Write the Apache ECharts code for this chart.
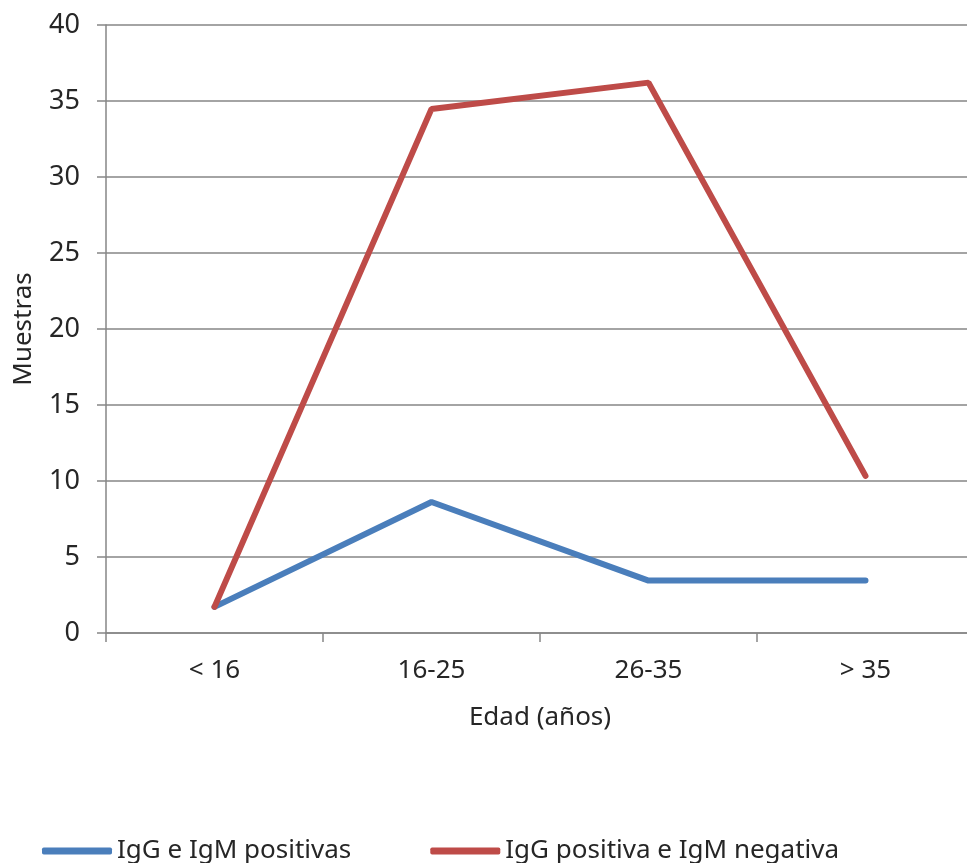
<!DOCTYPE html>
<html>
<head>
<meta charset="utf-8">
<script src="https://cdn.jsdelivr.net/npm/echarts@6/dist/echarts.min.js"></script>
<style>
html,body{margin:0;padding:0;background:#fff;}
#chart{width:967px;height:863px;}
</style>
</head>
<body>
<div id="chart"></div>
<script>
const categories = ['< 16', '16-25', '26-35', '> 35'];
const seriesNames = ['IgG e IgM positivas', 'IgG positiva e IgM negativa'];
const igmPositive = [1.72, 8.62, 3.45, 3.45];
const igmNegative = [1.72, 34.48, 36.21, 10.34];
const yTicks = [0, 5, 10, 15, 20, 25, 30, 35, 40];

const chart = echarts.init(document.getElementById('chart'));
const font = 'Noto Sans';
const txt = '#262626';
const gridCol = '#868686';
chart.setOption({
  animation: false,
  backgroundColor: '#fff',
  grid: { left: 106, right: -7, top: 25, bottom: 230, containLabel: false, outerBoundsMode: 'none' },
  legend: {
    left: 37, top: 833,
    itemWidth: 70, itemHeight: 7, itemGap: 79,
    icon: 'roundRect',
    textStyle: { fontFamily: font, fontSize: 26, color: txt },
    data: seriesNames
  },
  xAxis: {
    type: 'category',
    data: categories,
    boundaryGap: true,
    name: 'Edad (años)',
    nameLocation: 'middle',
    nameGap: 72,
    nameTextStyle: { fontFamily: font, fontSize: 26, color: txt },
    axisLine: { lineStyle: { color: gridCol, width: 1.5 } },
    axisTick: { show: true, length: 9, lineStyle: { color: gridCol, width: 1.5 } },
    axisLabel: { fontFamily: font, fontSize: 26, color: txt, margin: 25 }
  },
  yAxis: {
    type: 'value',
    min: yTicks[0], max: yTicks[yTicks.length - 1], interval: 5,
    name: 'Muestras',
    nameLocation: 'middle',
    nameGap: 69,
    nameRotate: 90,
    nameTextStyle: { fontFamily: font, fontSize: 26, color: txt },
    axisLine: { show: true, lineStyle: { color: gridCol, width: 1.5 } },
    axisTick: { show: true, length: 9, lineStyle: { color: gridCol, width: 1.5 } },
    axisLabel: { fontFamily: font, fontSize: 27, color: txt, margin: 26 },
    splitLine: { lineStyle: { color: gridCol, width: 1.5 } }
  },
  series: [
    {
      name: seriesNames[0], type: 'line', data: igmPositive,
      showSymbol: false, symbol: 'none',
      itemStyle: { color: '#4a7ebb' },
      lineStyle: { color: '#4a7ebb', width: 6, cap: 'round' }
    },
    {
      name: seriesNames[1], type: 'line', data: igmNegative,
      showSymbol: false, symbol: 'none',
      itemStyle: { color: '#be4b48' },
      lineStyle: { color: '#be4b48', width: 6, cap: 'round' }
    }
  ]
});
</script>
</body>
</html>
